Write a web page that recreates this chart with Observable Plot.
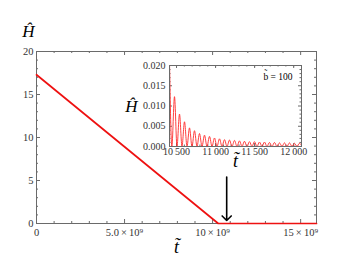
<!DOCTYPE html>
<html><head><meta charset="utf-8">
<script src="https://cdn.jsdelivr.net/npm/d3@7"></script>
<script src="https://cdn.jsdelivr.net/npm/@observablehq/plot@0.6"></script>
<style>
html,body{margin:0;padding:0;background:#fff;}
#wrap{position:relative;width:350px;height:263px;overflow:hidden;}
#wrap svg{position:absolute;overflow:visible;font-family:'Liberation Serif','Times New Roman',serif;}
#wrap svg text{font-family:'Liberation Serif','Times New Roman',serif;}
</style></head><body><div id="wrap"></div>
<script>
// ---- main chart data ----
const mainT = [0, 10.32e9, 15.9e9];
const mainH = [17.3, 0, 0];
const mainXTicks = [0, 5e9, 10e9, 15e9];
const mainXTickLabels = ["0", "5.0\u2009×\u200910⁹", "10\u2009×\u200910⁹", "15\u2009×\u200910⁹"];
const mainXMinor = [1e9, 2e9, 3e9, 4e9, 6e9, 7e9, 8e9, 9e9, 11e9, 12e9, 13e9, 14e9];
const mainYTicks = [0, 5, 10, 15, 20];
const mainYMinor = [1, 2, 3, 4, 6, 7, 8, 9, 11, 12, 13, 14, 16, 17, 18, 19];
const arrowT = [10.8e9];
const arrowFrom = [5.4];
const arrowTo = [0.35];

// ---- inset data ----
const insetPeakT = [10410, 10474, 10538, 10602, 10666, 10730, 10794, 10858, 10922, 10986, 11050, 11114, 11178, 11242, 11306, 11370, 11434, 11498, 11562, 11626, 11690, 11754, 11818, 11882, 11946, 12010, 12074];
const insetPeakH = [0.021, 0.0123, 0.0080, 0.0061, 0.0046, 0.0039, 0.0032, 0.0028, 0.0025, 0.0021, 0.0019, 0.0017, 0.0016, 0.0015, 0.0014, 0.0013, 0.0012, 0.0012, 0.0011, 0.0011, 0.0010, 0.0010, 0.0009, 0.0009, 0.0009, 0.0008, 0.0008];
const insetTroughT = [10440, 10506, 10570, 10634, 10698, 10762, 10826, 10890, 10954, 11018, 11082, 11146, 11210, 11274, 11338, 11402, 11466, 11530, 11594, 11658, 11722, 11786, 11850, 11914, 11978, 12042, 12106];
const insetTroughH = [0, 0, 0, 0, 0, 0, 0, 0, 0, 0, 0, 0, 0, 0, 0, 0, 0, 0, 0, 0, 0, 0, 0, 0, 0, 0, 0];
const insetXTicks = [10500, 11000, 11500, 12000];
const insetXTickLabels = ["10\u2009500", "11\u2009000", "11\u2009500", "12\u2009000"];
const insetXMinor = [10500, 10600, 10700, 10800, 10900, 11000, 11100, 11200, 11300, 11400, 11500, 11600, 11700, 11800, 11900, 12000, 12100];
const insetYTicks = [0, 0.005, 0.010, 0.015, 0.020];
const insetYTickLabels = ["0.000", "0.005", "0.010", "0.015", "0.020"];
const insetYMinor = [0.001, 0.002, 0.003, 0.004, 0.006, 0.007, 0.008, 0.009, 0.011, 0.012, 0.013, 0.014, 0.016, 0.017, 0.018, 0.019];
const insetNote = "b\u0303 = 100";

const frameCol = "#6a6a6a";
const textCol = "#333";

// ---- main ----
const mW = 350, mH = 263, mL = 36, mR = 34, mT = 51, mB = 40;
const mIH = mH - mT - mB, mIW = mW - mL - mR;
const mainData = mainT.map((t, i) => ({t, h: mainH[i]}));
const main = Plot.plot({
  width: mW, height: mH,
  marginLeft: mL, marginRight: mR, marginTop: mT, marginBottom: mB,
  style: "font-family:'Liberation Serif','Times New Roman',serif;font-size:10px;color:#333;background:transparent;",
  x: {domain: [0, 15.9e9]},
  y: {domain: [0, 20]},
  marks: [
    Plot.ruleX(mainXTicks, {x: d => d, insetTop: mIH - 4, stroke: frameCol}),
    Plot.ruleX(mainXTicks, {x: d => d, insetBottom: mIH - 4, stroke: frameCol}),
    Plot.ruleX(mainXMinor, {x: d => d, insetTop: mIH - 2, stroke: frameCol}),
    Plot.ruleX(mainXMinor, {x: d => d, insetBottom: mIH - 2, stroke: frameCol}),
    Plot.ruleY(mainYTicks, {y: d => d, insetRight: mIW - 4, stroke: frameCol}),
    Plot.ruleY(mainYTicks, {y: d => d, insetLeft: mIW - 4, stroke: frameCol}),
    Plot.ruleY(mainYMinor, {y: d => d, insetRight: mIW - 2, stroke: frameCol}),
    Plot.ruleY(mainYMinor, {y: d => d, insetLeft: mIW - 2, stroke: frameCol}),
    Plot.axisX({ticks: mainXTicks, tickSize: 0, tickPadding: 5, tickFormat: d => mainXTickLabels[mainXTicks.indexOf(d)], label: null, fill: textCol, fontSize: 10.5}),
    Plot.axisY({ticks: mainYTicks, tickSize: 0, tickPadding: 3, tickFormat: d => String(d), label: null, fill: textCol, fontSize: 10.5}),
    Plot.frame({stroke: frameCol}),
    Plot.line(mainData, {x: "t", y: "h", stroke: "#ee1111", strokeWidth: 1.7}),
    Plot.arrow(arrowT, {x1: d => d, x2: d => d, y1: (d, i) => arrowFrom[i], y2: (d, i) => arrowTo[i], stroke: "#000", strokeWidth: 1.6, headAngle: 90, headLength: 6}),
    Plot.text(["\u0124"], {frameAnchor: "top-left", dx: -8, dy: -15, lineAnchor: "bottom", textAnchor: "middle", fontSize: 17, fontStyle: "italic", fill: "#000"}),
    Plot.text(["t\u0303"], {frameAnchor: "bottom", dy: 29, lineAnchor: "bottom", textAnchor: "middle", fontSize: 18, fontStyle: "italic", fill: "#000"})
  ]
});
main.style.left = "0px"; main.style.top = "0px";

// ---- inset ----
const iW = 200, iH = 122, iL = 54, iR = 14, iT = 7, iB = 34;
const iIH = iH - iT - iB, iIW = iW - iL - iR;
const insetData = [];
insetPeakT.forEach((t, i) => {
  insetData.push({t, h: insetPeakH[i]});
  insetData.push({t: insetTroughT[i], h: insetTroughH[i]});
});
const inset = Plot.plot({
  width: iW, height: iH,
  marginLeft: iL, marginRight: iR, marginTop: iT, marginBottom: iB,
  style: "font-family:'Liberation Serif','Times New Roman',serif;font-size:10px;color:#333;background:transparent;",
  x: {domain: [10410, 12100]},
  y: {domain: [0, 0.02]},
  marks: [
    Plot.frame({fill: "#fff", stroke: "none"}),
    Plot.ruleX(insetXTicks, {x: d => d, insetTop: iIH - 3, stroke: frameCol}),
    Plot.ruleX(insetXTicks, {x: d => d, insetBottom: iIH - 3, stroke: frameCol}),
    Plot.ruleX(insetXMinor, {x: d => d, insetTop: iIH - 1.5, stroke: frameCol}),
    Plot.ruleX(insetXMinor, {x: d => d, insetBottom: iIH - 1.5, stroke: frameCol}),
    Plot.ruleY(insetYTicks, {y: d => d, insetRight: iIW - 3, stroke: frameCol}),
    Plot.ruleY(insetYTicks, {y: d => d, insetLeft: iIW - 3, stroke: frameCol}),
    Plot.ruleY(insetYMinor, {y: d => d, insetRight: iIW - 1.5, stroke: frameCol}),
    Plot.ruleY(insetYMinor, {y: d => d, insetLeft: iIW - 1.5, stroke: frameCol}),
    Plot.axisX({ticks: insetXTicks, tickSize: 0, tickPadding: 1, tickFormat: d => insetXTickLabels[insetXTicks.indexOf(d)], label: null, fill: textCol, fontSize: 10}),
    Plot.axisY({ticks: insetYTicks, tickSize: 0, tickPadding: 4, tickFormat: d => insetYTickLabels[insetYTicks.indexOf(d)], label: null, fill: textCol, fontSize: 10}),
    Plot.line(insetData, {x: "t", y: "h", stroke: "#ff2a2a", strokeWidth: 0.9, curve: "monotone-x", clip: true}),
    Plot.frame({stroke: frameCol}),
    Plot.text(["\u0124"], {frameAnchor: "left", dx: -38, dy: 6, lineAnchor: "bottom", textAnchor: "middle", fontSize: 17, fontStyle: "italic", fill: "#000"}),
    Plot.text(["t\u0303"], {frameAnchor: "bottom", dy: 20, lineAnchor: "bottom", textAnchor: "middle", fontSize: 18, fontStyle: "italic", fill: "#000"}),
    Plot.text([insetNote], {frameAnchor: "top-right", dx: -9, dy: 14, lineAnchor: "bottom", textAnchor: "end", fontSize: 9.5, fill: "#000"})
  ]
});
inset.style.left = "115px"; inset.style.top = "58px";

const wrap = document.getElementById("wrap");
wrap.appendChild(main);
wrap.appendChild(inset);
</script></body></html>
